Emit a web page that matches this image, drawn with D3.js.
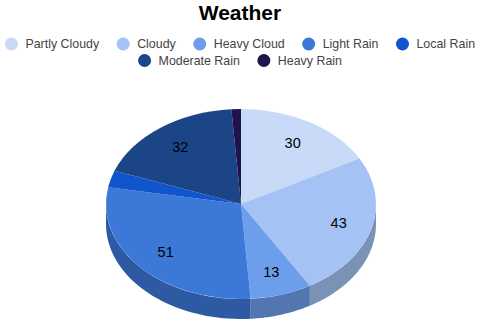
<!DOCTYPE html>
<html>
<head>
<meta charset="utf-8">
<script src="https://cdn.jsdelivr.net/npm/d3@7"></script>
<style>
  html, body { margin: 0; padding: 0; background: #fff; }
  text { font-family: "Liberation Sans", Arial, sans-serif; }
</style>
</head>
<body>
<div id="chart"></div>
<script>
const categories = ["Partly Cloudy", "Cloudy", "Heavy Cloud", "Light Rain", "Local Rain", "Moderate Rain", "Heavy Rain"];
const values = [30, 43, 13, 51, 5, 32, 2];
const colors = ["#c9daf8", "#a4c2f4", "#6d9eeb", "#3c78d8", "#1155cc", "#1c4587", "#20124d"];
const legendRows = [categories.slice(0, 5), categories.slice(5)];

const width = 480;
const height = 325;
const cx = 241;
const cy = 204;
const rx = 135;
const ry = 95;
const depth = 20;

const svg = d3.select("#chart")
  .append("svg")
  .attr("width", width)
  .attr("height", height)
  .style("display", "block");

// Title
svg.append("text")
  .attr("x", 240)
  .attr("y", 20)
  .attr("text-anchor", "middle")
  .style("font-size", "21px")
  .style("font-weight", "bold")
  .style("fill", "#000")
  .text("Weather");

// Legend, rows centred
const color = d3.scaleOrdinal().domain(categories).range(colors);
const legendGap = 17.5;
legendRows.forEach((row, i) => {
  const g = svg.append("g");
  let x = 0;
  row.forEach(name => {
    g.append("circle")
      .attr("cx", x + 6.5)
      .attr("r", 6.5)
      .attr("fill", color(name));
    const t = g.append("text")
      .attr("x", x + 20.5)
      .attr("dy", "0.35em")
      .style("font-size", "12.4px")
      .style("fill", "#444")
      .text(name);
    x += 20.5 + t.node().getComputedTextLength() + legendGap;
  });
  g.attr("transform", `translate(${(width - (x - legendGap)) / 2},${44 + i * 16.5})`);
});

const pie = d3.pie().value(d => d.value).sort(null);
const slices = pie(categories.map((name, i) => ({ name, value: values[i] })));

const ellipse = a => [Math.sin(a) * rx, -Math.cos(a) * ry];

// Side wall, only the front half of the rim shows
const wall = svg.append("g").attr("transform", `translate(${cx},${cy})`);
slices.forEach(s => {
  const a0 = Math.max(s.startAngle, Math.PI / 2);
  const a1 = Math.min(s.endAngle, 3 * Math.PI / 2);
  if (a1 <= a0) return;
  const rim = d3.range(0, 41).map(k => ellipse(a0 + (a1 - a0) * k / 40));
  const area = d3.area()
    .x(d => d[0])
    .y0(d => d[1] + depth)
    .y1(d => d[1]);
  const c = d3.rgb(color(s.data.name));
  wall.append("path")
    .attr("d", area(rim))
    .attr("fill", d3.rgb(c.r * 0.75, c.g * 0.75, c.b * 0.75));
});

// Top face, drawn as a circle squashed into an ellipse
const arc = d3.arc().innerRadius(0).outerRadius(rx);
svg.append("g")
  .attr("transform", `translate(${cx},${cy}) scale(1,${ry / rx})`)
  .selectAll("path")
  .data(slices)
  .enter().append("path")
  .attr("d", arc)
  .attr("fill", d => color(d.data.name));

// Labels, small slices have none
const labelPos = a => ellipse(a).map(v => v * 0.75);
svg.append("g")
  .attr("transform", `translate(${cx},${cy})`)
  .selectAll("text")
  .data(slices.filter(d => d.value >= 10))
  .enter().append("text")
  .attr("x", d => labelPos((d.startAngle + d.endAngle) / 2)[0])
  .attr("y", d => labelPos((d.startAngle + d.endAngle) / 2)[1])
  .attr("dy", "0.35em")
  .attr("text-anchor", "middle")
  .style("font-size", "14.5px")
  .style("fill", "#000")
  .text(d => d.value);
</script>
</body>
</html>
